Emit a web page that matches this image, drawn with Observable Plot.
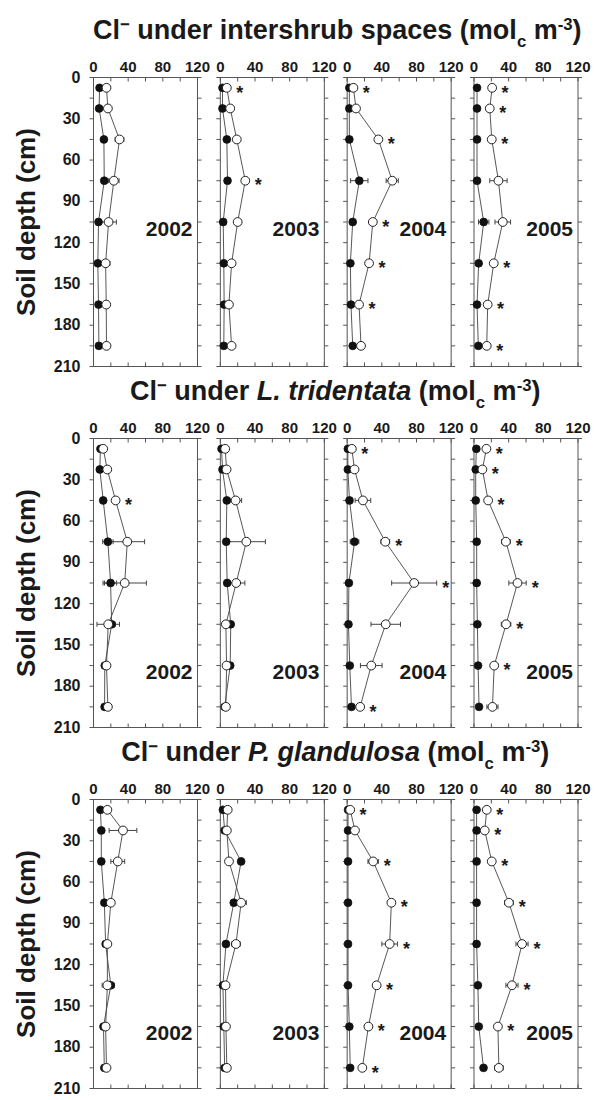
<!DOCTYPE html>
<html><head><meta charset="utf-8">
<script src="https://cdn.jsdelivr.net/npm/d3@7"></script>
<script src="https://cdn.jsdelivr.net/npm/@observablehq/plot@0.6"></script>
<style>
body{margin:0;padding:11px 0 0 0;background:#fff;font-family:"Liberation Sans",Arial,sans-serif;width:594px;}
.title{height:38px;line-height:38px;margin-left:93px;width:484.5px;text-align:center;font-weight:bold;font-size:27px;color:#1a1a1a;white-space:nowrap;}
.title sup{font-size:0.62em;position:relative;top:-0.55em;vertical-align:baseline;line-height:0;}
.title sub{font-size:0.62em;position:relative;top:0.45em;vertical-align:baseline;line-height:0;}
svg{overflow:visible;}
</style></head><body><div id="chart"></div>
<script>
// ---- data ----
const years = ["2002", "2003", "2004", "2005"];
const depths = [7.5, 22.5, 45, 75, 105, 135, 165, 195];
const xLabelTicks = [0, 40, 80, 120];
const xTickMarks = [0, 20, 40, 60, 80, 100, 120];
const yLabelTicks = [0, 30, 60, 90, 120, 150, 180, 210];
const yTickMarks = [0, 15, 30, 45, 60, 75, 90, 105, 120, 135, 150, 165, 180, 195, 210];

// Row 1: intershrub spaces (per year: values at each depth)
const interFilled = [
  [7, 6.5, 12, 12.4, 5.8, 5, 5.8, 6.2],
  [2.5, 2.5, 7.5, 8.3, 3.3, 4, 4.4, 4],
  [2.5, 2.5, 2.5, 14, 6.4, 3.7, 4.4, 6.4],
  [3.5, 3.5, 3.5, 3.5, 11.2, 5.4, 3.5, 5]
];
const interFilledErr = [
  [0, 0, 0, 0, 0, 0, 0, 0],
  [0, 0, 0, 0, 0, 0, 0, 0],
  [0, 0, 0, 10, 0, 0, 0, 0],
  [0, 0, 0, 0, 6, 0, 0, 0]
];
const interOpen = [
  [15, 16.6, 30, 23.5, 17.4, 14, 14.7, 15],
  [7.5, 11.4, 19, 28.8, 20, 13, 9.9, 13],
  [7.2, 10.2, 36, 52, 29.6, 25.3, 13.7, 16],
  [20.9, 18.2, 20.5, 28.2, 33.2, 22.8, 15.8, 14.7]
];
const interOpenErr = [
  [0, 0, 5, 6, 9, 5, 0, 0],
  [0, 0, 0, 0, 0, 0, 0, 0],
  [0, 0, 0, 7, 0, 0, 0, 0],
  [0, 0, 0, 10, 9, 0, 0, 0]
];
const interSig = [[], [7.5, 75], [7.5, 45, 105, 135, 165], [7.5, 22.5, 45, 135, 165, 195]];

// Row 2: L. tridentata
const larreaFilled = [
  [8, 7.3, 11.2, 16.6, 19.7, 21, 13, 12.8],
  [1.4, 2.5, 7.5, 6.8, 7.9, 12, 11.4, 5],
  [0.8, 0.8, 2.7, 8.5, 2, 1.5, 3, 5],
  [2.7, 2, 2, 3.1, 3.1, 3.9, 4.7, 5.8]
];
const larreaFilledErr = [
  [0, 0, 0, 6, 7, 4, 0, 0],
  [0, 0, 0, 0, 0, 0, 0, 0],
  [0, 0, 3, 5, 0, 0, 0, 0],
  [0, 0, 0, 0, 0, 0, 0, 0]
];
const larreaOpen = [
  [11.2, 15.9, 25.5, 39, 36, 17, 15, 16.6],
  [5.6, 7.2, 17.6, 30, 18.3, 6.4, 7.2, 6.4],
  [5.4, 8.5, 18.2, 44, 77.3, 44.5, 27.8, 15],
  [14.3, 9.7, 16.3, 36.8, 50.2, 37, 23.3, 21.3]
];
const larreaOpenErr = [
  [0, 0, 0, 20, 25, 13, 0, 0],
  [0, 0, 7, 22, 10, 0, 0, 0],
  [0, 0, 9, 5, 26, 17, 12.5, 0],
  [0, 0, 0, 5, 10, 5.5, 4, 6.4]
];
const larreaSig = [[45], [], [7.5, 75, 105, 195], [7.5, 22.5, 45, 75, 105, 135, 165]];

// Row 3: P. glandulosa
const prosopisFilled = [
  [8, 9, 9, 12.5, 14, 20, 11.5, 12.5],
  [3, 5, 24, 15.5, 6.5, 3, 4, 5],
  [1, 1, 1, 1, 1, 1, 2.5, 3.5],
  [3, 3, 3, 3, 3, 4.5, 5.5, 11]
];
const prosopisFilledErr = [
  [0, 0, 0, 0, 0, 4, 0, 0],
  [0, 0, 0, 0, 0, 0, 0, 0],
  [0, 0, 0, 0, 0, 0, 0, 0],
  [0, 0, 0, 0, 0, 0, 0, 0]
];
const prosopisOpen = [
  [16, 34, 28, 20, 16, 16, 14, 15],
  [8.5, 7.5, 10, 24, 18, 6, 6.5, 7.5],
  [3.5, 9, 30, 51, 49, 34, 24.5, 17.5],
  [14.7, 12.4, 20.5, 40.3, 55.4, 43.8, 27.6, 28.7]
];
const prosopisOpenErr = [
  [0, 16, 8, 0, 0, 6, 0, 0],
  [0, 0, 0, 6, 5, 0, 0, 0],
  [0, 0, 6, 0, 9, 0, 4, 0],
  [0, 0, 0, 5, 7, 7, 0, 5]
];
const prosopisSig = [[], [], [7.5, 45, 75, 105, 135, 165, 195], [7.5, 22.5, 45, 75, 105, 135, 165]];

// ---- helpers ----
const ink = "#1a1a1a";
const axisGray = "#555";
const lineGray = "#444";
const FONT = "'Liberation Sans', Arial, sans-serif";

const hSym = {draw(ctx, size) { const r = Math.sqrt(size / Math.PI); ctx.moveTo(-r, 0); ctx.lineTo(r, 0); }};
const vSym = {draw(ctx, size) { const r = Math.sqrt(size / Math.PI); ctx.moveTo(0, -r); ctx.lineTo(0, r); }};

function buildRows(filled, filledErr, open, openErr, sig) {
  const rows = [];
  years.forEach((yr, j) => depths.forEach((d, i) => rows.push({
    year: yr, depth: d,
    filled: filled[j][i], filledErr: filledErr[j][i],
    open: open[j][i], openErr: openErr[j][i],
    sig: sig[j].includes(d)
  })));
  return rows;
}

function makeRow(rows, yearDepth) {
  const errO = rows.filter(d => d.openErr > 0);
  const errF = rows.filter(d => d.filledErr > 0);
  const caps = [
    ...errO.flatMap(d => [{year: d.year, depth: d.depth, v: d.open - d.openErr}, {year: d.year, depth: d.depth, v: d.open + d.openErr}]),
    ...errF.flatMap(d => [{year: d.year, depth: d.depth, v: d.filled - d.filledErr}, {year: d.year, depth: d.depth, v: d.filled + d.filledErr}])
  ];
  return Plot.plot({
    width: 594, height: 323,
    marginTop: 28, marginBottom: 6, marginLeft: 93, marginRight: 16.5,
    style: {fontFamily: FONT, fontWeight: "bold", color: ink, overflow: "visible", background: "transparent"},
    fx: {domain: years, paddingInner: 0.18, paddingOuter: 0, round: false, axis: null, label: null},
    x: {domain: [0, 120]},
    y: {domain: [0, 210], reverse: true},
    marks: [
      Plot.frame({stroke: axisGray, strokeWidth: 1}),
      // tick marks
      Plot.dot(yTickMarks, {x: () => 0, y: d => d, symbol: hSym, r: 2, dx: -2, stroke: axisGray, fill: "none", strokeWidth: 1}),
      Plot.dot(yTickMarks, {x: () => 120, y: d => d, symbol: hSym, r: 2, dx: 2, stroke: axisGray, fill: "none", strokeWidth: 1}),
      Plot.dot(xTickMarks, {x: d => d, y: () => 0, symbol: vSym, r: 2, dy: 2, stroke: axisGray, fill: "none", strokeWidth: 1}),
      Plot.dot(xTickMarks, {x: d => d, y: () => 210, symbol: vSym, r: 2, dy: -2, stroke: axisGray, fill: "none", strokeWidth: 1}),
      Plot.axisX(xLabelTicks, {anchor: "top", tickSize: 0, tickPadding: 6, fontSize: 15, fontWeight: "bold", label: null}),
      Plot.axisY(yLabelTicks, {anchor: "left", tickSize: 0, tickPadding: 13, fontSize: 16, fontWeight: "bold", label: null}),
      // series lines
      Plot.line(rows, {fx: "year", x: "filled", y: "depth", stroke: lineGray, strokeWidth: 0.9}),
      Plot.line(rows, {fx: "year", x: "open", y: "depth", stroke: lineGray, strokeWidth: 0.9}),
      // error bars
      Plot.link(errO, {fx: "year", x1: d => d.open - d.openErr, x2: d => d.open + d.openErr, y1: "depth", y2: "depth", stroke: lineGray, strokeWidth: 1}),
      Plot.link(errF, {fx: "year", x1: d => d.filled - d.filledErr, x2: d => d.filled + d.filledErr, y1: "depth", y2: "depth", stroke: lineGray, strokeWidth: 1}),
      Plot.dot(caps, {fx: "year", x: "v", y: "depth", symbol: vSym, r: 2.5, stroke: lineGray, fill: "none", strokeWidth: 1}),
      // points
      Plot.dot(rows, {fx: "year", x: "filled", y: "depth", r: 3.9, fill: "#111", stroke: "#111", strokeWidth: 0.8}),
      Plot.dot(rows, {fx: "year", x: "open", y: "depth", r: 4.4, fill: "white", stroke: "#222", strokeWidth: 1}),
      // significance asterisks
      Plot.text(rows.filter(d => d.sig), {fx: "year", x: d => d.open + Math.max(d.openErr, 4.5), y: "depth", text: () => "*", dx: 9, dy: 5, fontSize: 18, fontWeight: "bold", fill: ink, textAnchor: "middle"}),
      // year labels
      Plot.text(years, {fx: d => d, y: () => yearDepth, frameAnchor: "right", text: d => d, dx: -5, textAnchor: "end", fontSize: 21, fontWeight: "bold", fill: ink}),
      // y-axis title
      Plot.text([years[0]], {fx: d => d, frameAnchor: "left", text: () => "Soil depth (cm)", rotate: -90, dx: -67, textAnchor: "middle", lineAnchor: "middle", fontSize: 26, fontWeight: "bold", fill: ink})
    ]
  });
}

const rowsSpec = [
  {title: 'Cl<sup>−</sup> under intershrub spaces (mol<sub>c</sub> m<sup>-3</sup>)', rows: buildRows(interFilled, interFilledErr, interOpen, interOpenErr, interSig), yd: 110},
  {title: 'Cl<sup>−</sup> under <i>L. tridentata</i> (mol<sub>c</sub> m<sup>-3</sup>)', rows: buildRows(larreaFilled, larreaFilledErr, larreaOpen, larreaOpenErr, larreaSig), yd: 170},
  {title: 'Cl<sup>−</sup> under <i>P. glandulosa</i> (mol<sub>c</sub> m<sup>-3</sup>)', rows: buildRows(prosopisFilled, prosopisFilledErr, prosopisOpen, prosopisOpenErr, prosopisSig), yd: 170}
];

const root = document.getElementById("chart");
for (const spec of rowsSpec) {
  const t = document.createElement("div");
  t.className = "title";
  t.innerHTML = spec.title;
  root.appendChild(t);
  root.appendChild(makeRow(spec.rows, spec.yd));
}
</script></body></html>
